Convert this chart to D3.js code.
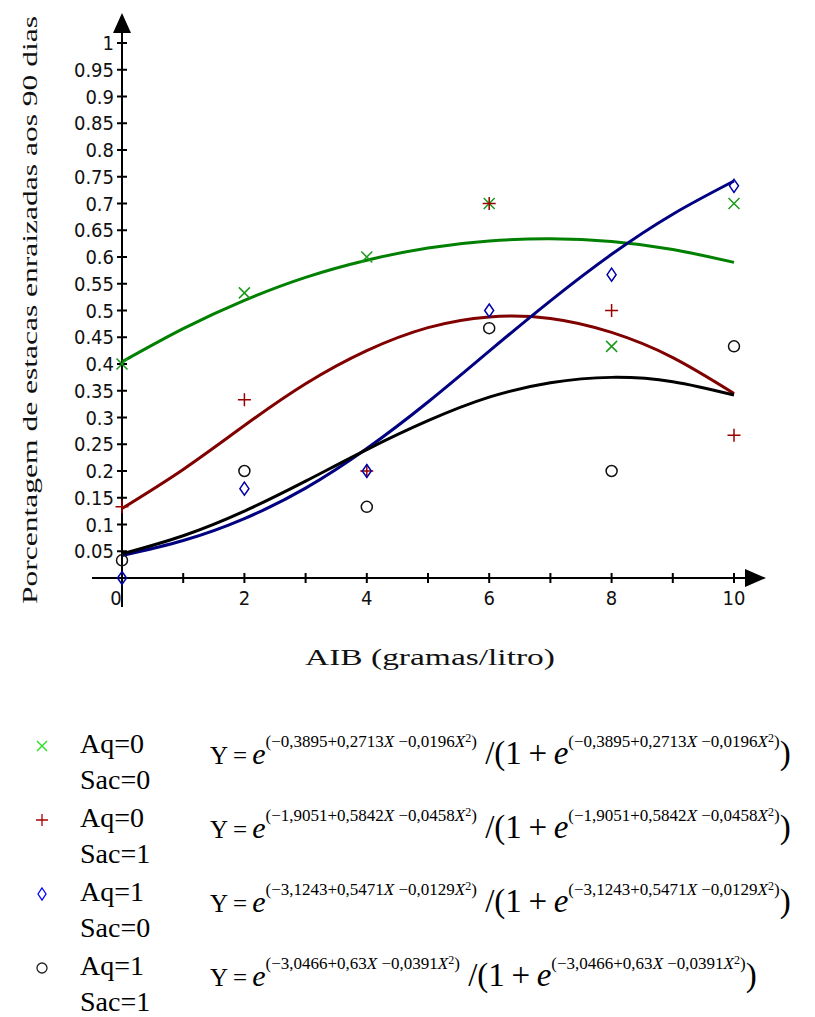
<!DOCTYPE html>
<html>
<head>
<meta charset="utf-8">
<script src="https://cdn.jsdelivr.net/npm/d3@7"></script>
<style>
  body { margin: 0; background: #fff; }
  svg { display: block; }
  .tick-label { font-family: "DejaVu Sans Condensed", "Liberation Sans Narrow", "Liberation Sans", sans-serif; font-stretch: condensed; font-size: 20px; fill: #111; }
  .title { font-family: "Liberation Serif", "DejaVu Serif", serif; fill: #111; }
  .legend { font-family: "Liberation Serif", "DejaVu Serif", serif; fill: #000; }
</style>
</head>
<body>
<div id="chart"></div>
<script>
// observed proportions (dose 0..10 g/l)
const doses = [0, 2, 4, 6, 8, 10];
const obsAq0Sac0 = [0.4, 0.533, 0.6, 0.7, 0.433, 0.7];
const obsAq0Sac1 = [0.133, 0.333, 0.2, 0.7, 0.5, 0.267];
const obsAq1Sac0 = [0, 0.167, 0.2, 0.5, 0.567, 0.733];
const obsAq1Sac1 = [0.033, 0.2, 0.133, 0.467, 0.2, 0.433];

// fitted curves read at every unit of dose
const curveX = [0, 1, 2, 3, 4, 5, 6, 7, 8, 9, 10];
const fitAq0Sac0 = [0.404, 0.466, 0.519, 0.562, 0.594, 0.617, 0.630, 0.634, 0.629, 0.614, 0.590];
const fitAq0Sac1 = [0.130, 0.203, 0.285, 0.363, 0.425, 0.468, 0.488, 0.485, 0.459, 0.412, 0.345];
const fitAq1Sac0 = [0.042, 0.070, 0.111, 0.168, 0.242, 0.329, 0.424, 0.518, 0.605, 0.680, 0.742];
const fitAq1Sac1 = [0.045, 0.079, 0.125, 0.181, 0.240, 0.294, 0.338, 0.365, 0.375, 0.367, 0.342];

const yTicks = d3.range(1, 21).map(i => +(i * 0.05).toFixed(2));
const xTicks = d3.range(1, 11);
const xLabels = [0, 2, 4, 6, 8, 10];

const legendAq = ["Aq=0", "Aq=0", "Aq=1", "Aq=1"];
const legendSac = ["Sac=0", "Sac=1", "Sac=0", "Sac=1"];
// coefficient strings as printed: constant, X term, X² term
const coefA = ["\u22120,3895", "\u22121,9051", "\u22123,1243", "\u22123,0466"];
const coefB = ["+0,2713", "+0,5842", "+0,5471", "+0,63"];
const coefC = ["\u22120,0196", "\u22120,0458", "\u22120,0129", "\u22120,0391"];

const width = 815, height = 1017;
const svg = d3.select("#chart").append("svg")
  .attr("width", width)
  .attr("height", height);

const x = d3.scaleLinear().domain([0, 10]).range([122, 734]);
const y = d3.scaleLinear().domain([0, 1]).range([578, 43]);

// axes
const ax = svg.append("g").attr("stroke", "#000").attr("stroke-width", 2);
ax.append("line").attr("x1", x(0)).attr("x2", x(0)).attr("y1", 30).attr("y2", 607);
ax.append("line").attr("x1", 92).attr("x2", 752).attr("y1", y(0)).attr("y2", y(0));
svg.append("path")
  .attr("d", `M${x(0)},13 L${x(0) - 9},33 L${x(0) + 9},33 Z`)
  .attr("fill", "#000");
svg.append("path")
  .attr("d", `M766,${y(0)} L745,${y(0) - 9} L745,${y(0) + 9} Z`)
  .attr("fill", "#000");

ax.selectAll(".yt").data(yTicks).enter().append("line")
  .attr("x1", x(0) - 5).attr("x2", x(0) + 5)
  .attr("y1", d => y(d)).attr("y2", d => y(d));
ax.selectAll(".xt").data(xTicks).enter().append("line")
  .attr("x1", d => x(d)).attr("x2", d => x(d))
  .attr("y1", y(0) - 5).attr("y2", y(0) + 5);

svg.selectAll(".ylab").data(yTicks).enter().append("text")
  .attr("class", "tick-label")
  .attr("x", x(0) - 8)
  .attr("y", d => y(d) + 7)
  .attr("text-anchor", "end")
  .text(d => String(d));
svg.selectAll(".xlab").data(xLabels).enter().append("text")
  .attr("class", "tick-label")
  .attr("x", d => d === 0 ? x(d) - 6 : x(d))
  .attr("y", y(0) + 27)
  .attr("text-anchor", "middle")
  .text(d => d);

svg.append("text").attr("class", "title")
  .attr("transform", "translate(37,310) rotate(-90)")
  .attr("text-anchor", "middle")
  .attr("font-size", 22)
  .attr("textLength", 588)
  .attr("lengthAdjust", "spacingAndGlyphs")
  .text("Porcentagem de estacas enraizadas aos 90 dias");
svg.append("text").attr("class", "title")
  .attr("x", 430).attr("y", 665)
  .attr("text-anchor", "middle")
  .attr("font-size", 24)
  .attr("textLength", 250)
  .attr("lengthAdjust", "spacingAndGlyphs")
  .text("AIB (gramas/litro)");

// fitted curves
const series = [
  {fit: fitAq0Sac0, obs: obsAq0Sac0, line: "#008000", mark: "#1a9a1a", legendMark: "#22dd22", sym: "x"},
  {fit: fitAq0Sac1, obs: obsAq0Sac1, line: "#800000", mark: "#990000", legendMark: "#aa0000", sym: "plus"},
  {fit: fitAq1Sac0, obs: obsAq1Sac0, line: "#000080", mark: "#0000aa", legendMark: "#0000ff", sym: "diamond"},
  {fit: fitAq1Sac1, obs: obsAq1Sac1, line: "#000000", mark: "#111111", legendMark: "#222222", sym: "circle"}
];

const line = d3.line()
  .x((d, i) => x(curveX[i]))
  .y(d => y(d))
  .curve(d3.curveNatural);

svg.append("g").selectAll("path").data(series).enter().append("path")
  .attr("d", d => line(d.fit))
  .attr("fill", "none")
  .attr("stroke", d => d.line)
  .attr("stroke-width", 3);

function symbolPath(sym, s) {
  if (sym === "x") return `M${-s},${-s}L${s},${s}M${-s},${s}L${s},${-s}`;
  if (sym === "plus") return `M${-s - 1},0L${s + 1},0M0,${-s - 1}L0,${s + 1}`;
  if (sym === "diamond") return `M0,${-s - 1}L${s - 1},0L0,${s + 1}L${-s + 1},0Z`;
  return d3.symbol(d3.symbolCircle, Math.PI * s * s)();
}

const marks = svg.append("g");
series.forEach(sr => {
  marks.selectAll(null).data(sr.obs).enter().append("path")
    .attr("transform", (d, i) => `translate(${x(doses[i])},${y(d)})`)
    .attr("d", symbolPath(sr.sym, 5.5))
    .attr("fill", "none")
    .attr("stroke", sr.mark)
    .attr("stroke-width", 1.5);
});

// legend
const legendTop = 753, legendStep = 74;
const leg = svg.append("g");
series.forEach((sr, k) => {
  const base = legendTop + k * legendStep;
  leg.append("path")
    .attr("transform", `translate(42,${base - 7})`)
    .attr("d", symbolPath(sr.sym, 5))
    .attr("fill", "none")
    .attr("stroke", sr.legendMark)
    .attr("stroke-width", 1.3);
  leg.append("text").attr("class", "legend")
    .attr("x", 80).attr("y", base).attr("font-size", 28).text(legendAq[k]);
  leg.append("text").attr("class", "legend")
    .attr("x", 80).attr("y", base + 36).attr("font-size", 28).text(legendSac[k]);

  const t = leg.append("text").attr("class", "legend")
    .attr("x", 210).attr("y", base + 11).attr("font-size", 25);
  const exponent = () => {
    t.append("tspan").attr("dy", -17).attr("font-size", 17).text("(" + coefA[k] + coefB[k]);
    t.append("tspan").attr("font-size", 17).attr("font-style", "italic").text("X");
    t.append("tspan").attr("font-size", 17).text(" " + coefC[k]);
    t.append("tspan").attr("font-size", 17).attr("font-style", "italic").text("X");
    t.append("tspan").attr("dy", -5).attr("font-size", 12).text("2");
    t.append("tspan").attr("dy", 5).attr("font-size", 17).text(")");
  };
  t.append("tspan").text("Y\u2009=\u2009");
  t.append("tspan").attr("font-style", "italic").attr("font-size", 30).text("e");
  exponent();
  t.append("tspan").attr("dy", 17).attr("font-size", 33).text(" /(1\u2009+\u2009");
  t.append("tspan").attr("font-style", "italic").attr("font-size", 33).text("e");
  exponent();
  t.append("tspan").attr("dy", 17).attr("font-size", 33).text(")");
});
</script>
</body>
</html>
